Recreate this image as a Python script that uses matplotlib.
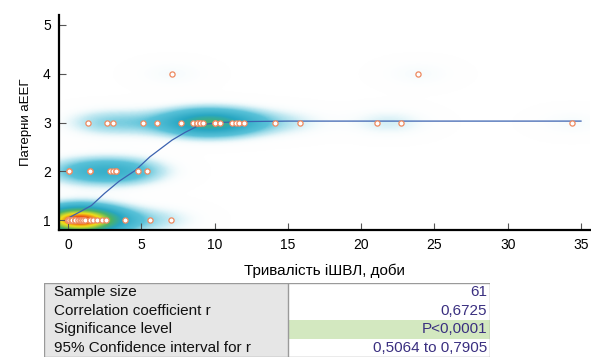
import numpy as np
import matplotlib
matplotlib.use('Agg')
import matplotlib.pyplot as plt
from matplotlib.colors import LinearSegmentedColormap
from matplotlib.patches import Rectangle

plt.rcParams['font.family'] = ['Liberation Sans', 'DejaVu Sans']

# Duration of ventilation (days) for each aEEG pattern level
dur_p1 = [0, 0, 0, 0, 0.1, 0.2, 0.3, 0.3, 0.5, 0.5, 0.5, 0.7, 0.8, 0.9, 1.0, 1.0,
          1.2, 1.5, 1.7, 2.0, 2.3, 2.6, 3.9, 5.6, 7.0]
dur_p2 = [0.1, 0.1, 1.5, 1.5, 2.9, 3.1, 3.3, 3.3, 4.8, 5.4]
dur_p3 = [1.4, 2.7, 3.1, 5.1, 6.1, 7.7, 8.5, 8.8, 8.8, 9.0, 9.0, 9.2, 10.0, 10.0,
          10.4, 11.2, 11.5, 11.7, 12.0, 14.1, 15.8, 21.1, 22.7, 34.4]
dur_p4 = [7.1, 23.9]

# smoothed fit line
fit_x = [0, 0.5, 1.0, 1.6, 2.5, 3.5, 4.6, 5.6, 7.1, 8.0, 9.0, 10.3, 12, 15, 20, 25, 35]
fit_y = [1.04, 1.12, 1.2, 1.3, 1.55, 1.8, 2.02, 2.3, 2.64, 2.8, 2.95, 3.0, 3.02, 3.03,
         3.03, 3.03, 3.03]

stat_names = ['Sample size', 'Correlation coefficient r', 'Significance level',
              '95% Confidence interval for r']
stat_values = ['61', '0,6725', 'P<0,0001', '0,5064 to 0,7905']

xs = np.array(dur_p1 + dur_p2 + dur_p3 + dur_p4, dtype=float)
ys = np.array([1] * len(dur_p1) + [2] * len(dur_p2) + [3] * len(dur_p3) + [4] * len(dur_p4),
              dtype=float)

fig = plt.figure(figsize=(5.91, 3.61), dpi=100)
ax = fig.add_axes([0.1, 0.363, 0.898, 0.595])

xmin, xmax, ymin, ymax = -0.6, 35.6, 0.8, 5.2

# density shading
gx = np.linspace(xmin, xmax, 500)
gy = np.linspace(ymin, ymax, 300)
GX, GY = np.meshgrid(gx, gy)
dens = np.zeros_like(GX)
for xi, yi in zip(xs, ys):
    dens += np.exp(-0.5 * ((GX - xi) / 1.8) ** 2 - 0.5 * ((GY - yi) / 0.2) ** 2)
dens /= dens.max()
cmap = LinearSegmentedColormap.from_list('dens', [
    (0.0, (1, 1, 1, 0)),
    (0.04, (0.92, 0.97, 0.98, 0.25)),
    (0.1, (0.72, 0.9, 0.94, 0.8)),
    (0.2, (0.35, 0.76, 0.85, 1)),
    (0.42, (0.15, 0.65, 0.76, 1)),
    (0.6, (0.3, 0.7, 0.4, 1)),
    (0.8, (0.95, 0.88, 0.1, 1)),
    (1.0, (0.92, 0.12, 0.05, 1))])
ax.imshow(dens, extent=[xmin, xmax, ymin, ymax], origin='lower', aspect='auto',
          cmap=cmap, interpolation='bilinear', zorder=1)

ax.plot(fit_x, fit_y, color='#3b62b0', lw=0.9, zorder=2)
ax.scatter(xs, ys, s=14, facecolor='white', edgecolor='#ee8a60', linewidth=0.9, zorder=3)

ax.set_xlim(xmin, xmax)
ax.set_ylim(ymin, ymax)
ax.set_xticks([0, 5, 10, 15, 20, 25, 30, 35])
ax.set_yticks([1, 2, 3, 4, 5])
ax.tick_params(direction='in', length=5, width=0.8, color='#555555', labelsize=10, pad=6)
for s in ['top', 'right']:
    ax.spines[s].set_visible(False)
for s in ['left', 'bottom']:
    ax.spines[s].set_linewidth(1.6)
ax.set_xlabel('Тривалість іШВЛ, доби', fontsize=11, labelpad=8)
ax.set_ylabel('Патерни аЕЕГ', fontsize=9.5, labelpad=8)

# statistics table
tab = fig.add_axes([0.0745, 0.011, 0.755, 0.205])
tab.set_xlim(0, 1)
tab.set_ylim(0, 4)
tab.axis('off')
split = 0.547
for i, (name, val) in enumerate(zip(stat_names, stat_values)):
    y0 = 3 - i
    tab.add_patch(Rectangle((0, y0), split, 1, facecolor='#e6e6e6', edgecolor='none'))
    right_col = '#d3e8c0' if name == 'Significance level' else 'white'
    tab.add_patch(Rectangle((split, y0), 1 - split, 1, facecolor=right_col, edgecolor='none'))
    tab.text(0.022, y0 + 0.5, name, ha='left', va='center', fontsize=11, color='#111111')
    tab.text(0.993, y0 + 0.5, val, ha='right', va='center', fontsize=11, color='#3a2f80')
tab.add_patch(Rectangle((0, 0), 1, 4, facecolor='none', edgecolor='#9a9a9a', lw=1))
tab.plot([split, split], [0, 4], color='#9a9a9a', lw=1)

fig.savefig('out.png', dpi=100)
